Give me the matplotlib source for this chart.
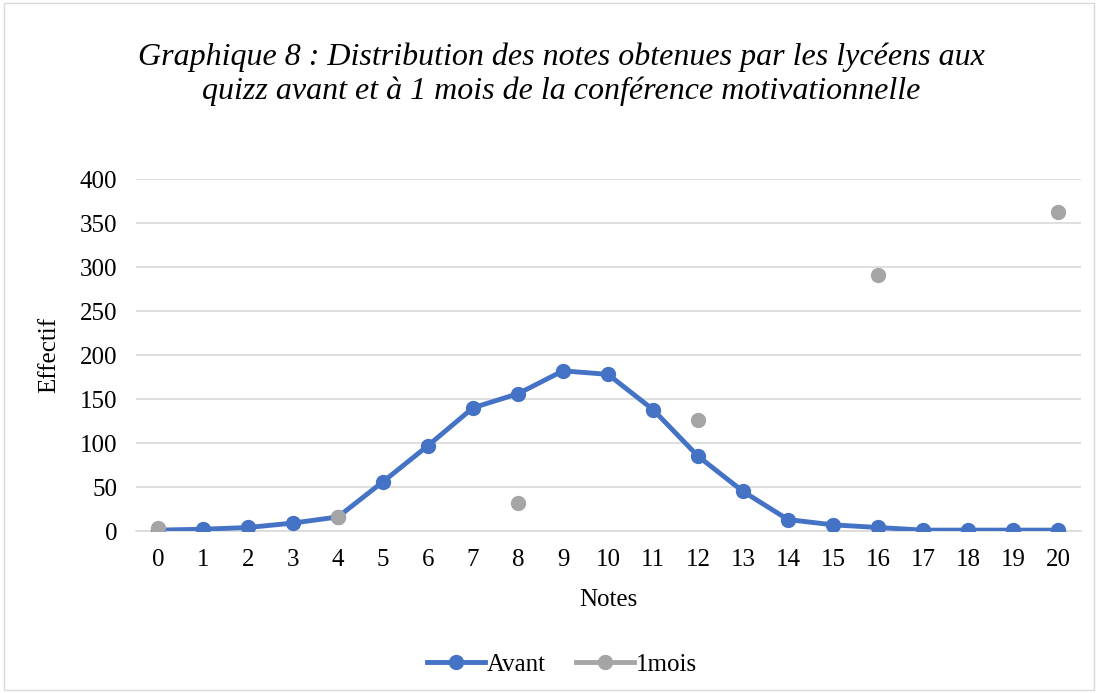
import numpy as np
import matplotlib
matplotlib.use("Agg")
import matplotlib.pyplot as plt
from matplotlib.patches import Rectangle

# data
notes = list(range(21))
avant = [1, 2, 4, 9, 16, 56, 97, 140, 156, 182, 178, 138, 85, 45, 13, 7, 4, 1, 1, 1, 1]
mois_x = [0, 4, 8, 12, 16, 20]
mois_y = [3, 16, 32, 126, 291, 363]

plt.rcParams['font.family'] = ['Liberation Serif', 'DejaVu Serif']

fig = plt.figure(figsize=(10.98, 6.93), dpi=100)
fig.patches.append(Rectangle((0.004, 0.004), 0.992, 0.992, transform=fig.transFigure,
                             fill=False, edgecolor='#d9d9d9', linewidth=1))

ax = fig.add_axes([135.5 / 1098, 1 - 531 / 693, 945 / 1098, 352 / 693])

blue = '#4472c4'
grey = '#a5a5a5'
ax.plot(notes, avant, color=blue, linewidth=3.5, marker='o', markersize=10,
        label='Avant', zorder=3)
ax.plot(mois_x, mois_y, color=grey, linestyle='none', marker='o', markersize=10,
        label='1mois', zorder=4)

ax.set_xlim(-0.5, 20.5)
ax.set_ylim(0, 400)
ax.set_xticks(notes)
ax.set_yticks(np.arange(0, 401, 50))
ax.grid(axis='y', color='#d9d9d9', linewidth=1.2)
ax.set_axisbelow(True)
for s in ['top', 'right', 'left']:
    ax.spines[s].set_visible(False)
ax.spines['bottom'].set_color('#d9d9d9')
ax.spines['bottom'].set_linewidth(1.2)
ax.tick_params(axis='both', length=0, labelsize=18)
ax.tick_params(axis='x', pad=13)
ax.tick_params(axis='y', pad=13)

ax.set_xlabel('Notes', fontsize=18, labelpad=13)
ax.set_ylabel('Effectif', fontsize=18, labelpad=14)

fig.text(0.511, 0.893, 'Graphique 8 : Distribution des notes obtenues par les lycéens aux\n'
         'quizz avant et à 1 mois de la conférence motivationnelle',
         ha='center', va='center', fontsize=23, style='italic', linespacing=1.18)

# legend: line with marker for both
h1 = plt.Line2D([], [], color=blue, linewidth=3.5, marker='o', markersize=10)
h2 = plt.Line2D([], [], color=grey, linewidth=3.5, marker='o', markersize=10)
fig.legend([h1, h2], ['Avant', '1mois'], loc='center', bbox_to_anchor=(0.512, 0.041),
           ncol=2, frameon=False, fontsize=18, handlelength=2.3, handletextpad=0.1,
           columnspacing=1.2)

fig.savefig('out.png', dpi=100)
